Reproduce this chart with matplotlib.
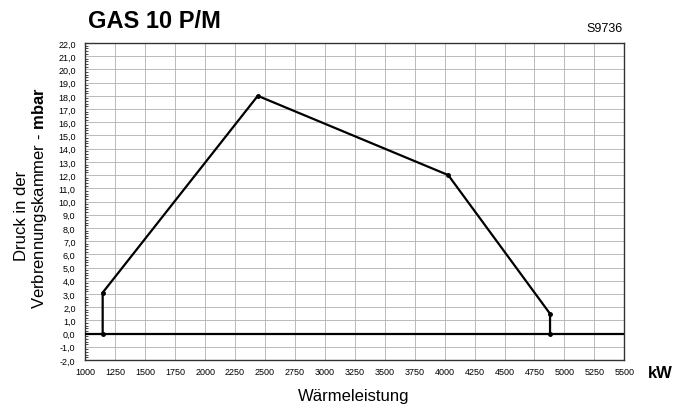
import matplotlib
matplotlib.use("Agg")
import matplotlib.pyplot as plt
from matplotlib.ticker import MultipleLocator, FuncFormatter

plt.rcParams['font.family'] = ['Liberation Sans', 'DejaVu Sans']
plt.rcParams['mathtext.fontset'] = 'custom'
plt.rcParams['mathtext.rm'] = 'Liberation Sans'
plt.rcParams['mathtext.bf'] = 'Liberation Sans:bold'

power_kw = [1145, 1145, 2440, 4030, 4880, 4880]
pressure_mbar = [0.0, 3.1, 18.0, 12.0, 1.5, 0.0]
x_ticks = list(range(1000, 5501, 250))
y_ticks = list(range(-2, 23, 1))

fig = plt.figure(figsize=(6.92, 4.10), dpi=100)
ax = fig.add_axes([85.3/692, 1-361/410, (624.3-85.3)/692, (361-44)/410])

ax.set_xlim(1000, 5500)
ax.set_ylim(-2, 22)
ax.set_xticks(x_ticks)
ax.set_yticks(y_ticks)
ax.yaxis.set_major_formatter(FuncFormatter(lambda v, p: f"{v:.1f}".replace('.', ',')))
ax.yaxis.set_minor_locator(MultipleLocator(0.2))
ax.grid(True, which='major', color='#b0b0b0', linewidth=0.6)
ax.set_axisbelow(True)
ax.tick_params(axis='x', which='major', labelsize=6.5, length=0, pad=5)
ax.tick_params(axis='y', which='major', labelsize=6.5, length=0, pad=7)
ax.tick_params(axis='y', which='minor', length=2, direction='in', width=0.5)
ax.tick_params(axis='x', which='minor', length=0)
for s in ax.spines.values():
    s.set_linewidth(1.0)
    s.set_color('#333333')

ax.axhline(0, color='black', linewidth=1.6, zorder=3)
ax.plot(power_kw, pressure_mbar, color='black', linewidth=1.6, marker='o',
        markersize=2.5, zorder=4)

fig.text(88/692, 1-21/410, "GAS 10 P/M", fontsize=17, fontweight='bold',
         va='center', ha='left')
fig.text(623/692, 1-29/410, "S9736", fontsize=9, va='center', ha='right')
fig.text(354/692, 1-397/410, "Wärmeleistung", fontsize=12, ha='center', va='center')
fig.text(660/692, 1-374/410, "kW", fontsize=12, fontweight='bold', ha='center', va='center')

fig.text(22/692, 1-216/410, "Druck in der", fontsize=12, rotation=90,
         ha='center', va='center')
fig.text(40/692, 1-198/410, "Verbrennungskammer - $\\mathbf{mbar}$", fontsize=12,
         rotation=90, ha='center', va='center')

fig.savefig("out.png", dpi=100)
